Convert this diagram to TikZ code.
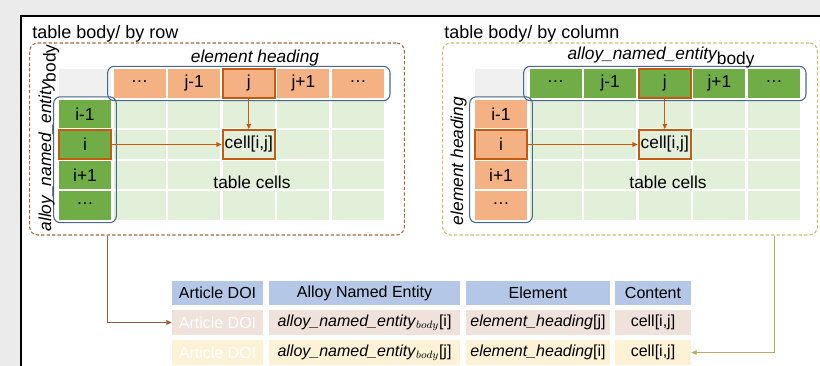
\documentclass[tikz,border=0pt]{standalone}
\usepackage{fontspec}
\setmainfont{Liberation Sans}
\usetikzlibrary{arrows.meta,fit}

\definecolor{pagegrey}{HTML}{EBEBEB}
\definecolor{headorange}{HTML}{F4B183}
\definecolor{headgreen}{HTML}{70AD47}
\definecolor{bodygreen}{HTML}{E2F0D9}
\definecolor{cornergrey}{HTML}{F0F0F0}
\definecolor{hlorange}{HTML}{C55A11}
\definecolor{outlineblue}{HTML}{4A6A8C}
\definecolor{rowbrown}{HTML}{A8683C}
\definecolor{colgold}{HTML}{D2BC6C}
\definecolor{tabblue}{HTML}{B4C7E7}
\definecolor{tabpink}{HTML}{F0E1DB}
\definecolor{tabcream}{HTML}{FDF2D6}

\newcommand{\middots}{\raisebox{0.45ex}{\ldots}}

\tikzset{
	cell/.style={minimum width=39pt,minimum height=21.4pt,inner sep=0pt,
		font=\fontsize{13}{15}\selectfont},
	hl/.style={cell,draw=hlorange,line width=1.6pt},
	hlarrow/.style={draw=hlorange,line width=0.8pt,-{Triangle[length=4pt,width=3.5pt]}},
	outline/.style={draw=outlineblue,line width=0.8pt,rounded corners=5pt,
		inner xsep=4.3pt,inner ysep=2pt},
	frame/.style={rounded corners=6pt,line width=0.8pt,dash pattern=on 2.5pt off 1.6pt,
		minimum width=281pt,minimum height=144pt,inner sep=0pt},
	lab/.style={font=\fontsize{13}{15}\selectfont,inner sep=0pt},
	title/.style={font=\fontsize{13.5}{16}\selectfont,inner sep=0pt},
	tcell/.style={minimum height=18.4pt,inner sep=0pt,font=\fontsize{12}{14}\selectfont},
}

\begin{document}
\begin{tikzpicture}[x=0.75pt,y=-0.75pt]

\fill[pagegrey] (0,0) rectangle (820,366);
\clip (0,0) rectangle (820,366);
\filldraw[fill=white,draw=black,line width=1.5pt] (21,16) rectangle (840,390);

% dashed frames and titles
\node[frame,draw=rowbrown] (rowbox) at (217,139) {};
\node[frame,draw=colgold] (colbox) at (630,139) {};
\node[title,anchor=base west] (rowtitle) at (32,39) {table body/ by row};
\node[title,anchor=base west] (coltitle) at (444,39) {table body/ by column};

% corner cells
\node[cell,fill=cornergrey] (L00) at (85,83.5) {};
\node[cell,fill=cornergrey] (R00) at (501,83.5) {};

% heading row
\foreach \c/\lab in {1/\middots,2/j-1,3/j,4/j+1,5/\middots} {
	\pgfmathsetmacro\cx{85+54.6*\c}
	\node[cell,fill=headorange] (L0\c) at (\cx,83.5) {\lab};
	\node[cell,fill=headgreen] (R0\c) at (\cx+416,83.5) {\lab};
}

% heading column
\foreach \r/\lab in {1/i-1,2/i,3/i+1,4/\middots} {
	\pgfmathsetmacro\cy{83.5+30.5*\r}
	\node[cell,fill=headgreen] (L\r0) at (85,\cy) {\lab};
	\node[cell,fill=headorange] (R\r0) at (501,\cy) {\lab};
}

% table cells
\foreach \r in {1,...,4} {
	\foreach \c in {1,...,5} {
		\pgfmathsetmacro\cx{85+54.6*\c}
		\pgfmathsetmacro\cy{83.5+30.5*\r}
		\node[cell,fill=bodygreen] (L\r\c) at (\cx,\cy) {};
		\node[cell,fill=bodygreen] (R\r\c) at (\cx+416,\cy) {};
	}
}

% outlines
\node[outline,fit=(L01)(L05)] (lhead) {};
\node[outline,fit=(L10)(L40),inner xsep=3.8pt] (lside) {};
\node[outline,fit=(R01)(R05)] (rhead) {};
\node[outline,fit=(R10)(R40),inner xsep=3.8pt] (rside) {};

% highlighted cells
\node[hl] (lj) at (L03) {};
\node[hl] (li) at (L20) {};
\node[hl] (lcell) at (L23) {cell[i,j]};
\node[hl] (rj) at (R03) {};
\node[hl] (ri) at (R20) {};
\node[hl] (rcell) at (R23) {cell[i,j]};

\draw[hlarrow] (lj.south) -- (lcell.north);
\draw[hlarrow] (li.east) -- (lcell.west);
\draw[hlarrow] (rj.south) -- (rcell.north);
\draw[hlarrow] (ri.east) -- (rcell.west);

\node[lab] (lcells) at (252,182) {table cells};
\node[lab] (rcells) at (668,182) {table cells};

% axis labels
\node[lab,anchor=base] (lhlab) at (255,63) {\itshape element heading};
\node[lab,anchor=base,rotate=90] (lslab) at (51,138)
	{\itshape alloy\_named\_entity\raisebox{-0.5ex}{\upshape body}};
\node[lab,anchor=base] (rhlab) at (661,60)
	{\itshape alloy\_named\_entity\raisebox{-0.5ex}{\upshape body}};
\node[lab,anchor=base,rotate=90] (rslab) at (463,161) {\itshape element heading};

% output table
\node[tcell,fill=tabblue,minimum width=68.3pt] (hdoi) at (217.5,293) {Article DOI};
\node[tcell,fill=tabblue,minimum width=143.3pt] (hane) at (364.5,293) {Alloy Named Entity};
\node[tcell,fill=tabblue,minimum width=108pt] (hel) at (538,293) {Element};
\node[tcell,fill=tabblue,minimum width=57pt] (hcon) at (653,293) {Content};

\node[tcell,fill=tabpink,minimum width=68.3pt,text=white] (r1doi) at (217.5,322.5) {Article DOI};
\node[tcell,fill=tabpink,minimum width=143.3pt] (r1ane) at (364.5,322.5) {\textit{alloy\_named\_entity}$_{body}$[i]};
\node[tcell,fill=tabpink,minimum width=108pt] (r1el) at (538,322.5) {\textit{element\_heading}[j]};
\node[tcell,fill=tabpink,minimum width=57pt] (r1con) at (653,322.5) {cell[i,j]};

\node[tcell,fill=tabcream,minimum width=68.3pt,text=white] (r2doi) at (217.5,352.5) {Article DOI};
\node[tcell,fill=tabcream,minimum width=143.3pt] (r2ane) at (364.5,352.5) {\textit{alloy\_named\_entity}$_{body}$[j]};
\node[tcell,fill=tabcream,minimum width=108pt] (r2el) at (538,352.5) {\textit{element\_heading}[i]};
\node[tcell,fill=tabcream,minimum width=57pt] (r2con) at (653,352.5) {cell[i,j]};

% connectors
\draw[draw=rowbrown!90!black,line width=0.7pt,-{Triangle[length=4pt,width=3.5pt]}]
	(lhead.west |- rowbox.south) |- (r1doi.west);
\draw[draw=colgold!90!black,line width=0.7pt,-{Triangle[length=4pt,width=3.5pt]}]
	(R05 |- colbox.south) |- (r2con.east);

\end{tikzpicture}
\end{document}
